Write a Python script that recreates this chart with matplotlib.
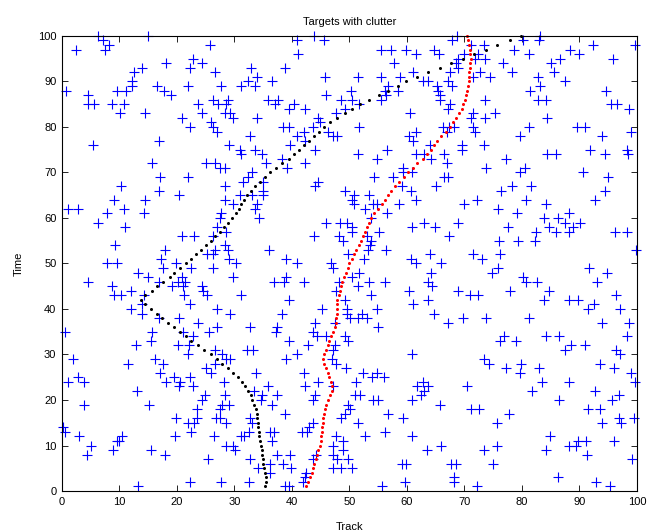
import numpy as np
import matplotlib
matplotlib.use("Agg")
import matplotlib.pyplot as plt

plt.rcParams['font.family'] = ['Liberation Sans', 'DejaVu Sans']

# time steps of the two targets
time_steps = np.arange(1, 101)

# target 1 (black) track position per time step
track_black = [35.3, 35.4, 35.4, 35.3, 35.2, 35.0, 34.9, 34.8, 34.7, 34.6,
               34.4, 34.3, 34.3, 34.1, 34.1, 34.0, 33.9, 33.7, 33.4, 33.1,
               32.8, 32.4, 31.9, 31.3, 30.6, 29.8, 28.9, 27.9, 26.9, 25.9,
               24.7, 23.6, 22.5, 21.5, 20.5, 19.5, 18.5, 17.4, 16.5, 15.5,
               14.5, 13.7, 14.5, 15.6, 16.6, 17.6, 18.7, 19.5, 20.5, 21.5,
               22.4, 23.3, 24.2, 25.0, 25.9, 26.6, 27.4, 28.2, 28.9, 29.6,
               30.2, 30.7, 31.1, 31.7, 32.2, 32.8, 33.6, 34.4, 35.3, 36.2,
               37.2, 38.3, 39.4, 40.4, 41.2, 42.1, 43.0, 43.8, 44.7, 45.6,
               46.6, 47.9, 49.3, 50.5, 51.8, 53.4, 55.1, 56.7, 58.4, 59.9,
               61.8, 63.7, 65.8, 67.7, 69.8, 71.7, 73.7, 75.7, 77.9, 79.9]

# target 2 (red) track position per time step
track_red = [42.4, 42.8, 43.1, 43.4, 43.7, 43.9, 44.2, 44.4, 44.6, 44.8,
             45.0, 45.1, 45.2, 45.3, 45.4, 45.4, 45.6, 45.7, 45.9, 46.2,
             46.6, 46.9, 46.9, 46.7, 46.5, 46.2, 45.9, 45.6, 45.4, 45.6,
             45.9, 46.2, 46.5, 46.8, 47.1, 47.4, 47.6, 47.7, 47.8, 47.8,
             47.8, 47.9, 48.1, 48.3, 48.5, 48.7, 49.0, 49.4, 49.8, 50.0,
             50.4, 50.8, 51.2, 51.6, 52.0, 52.4, 52.7, 53.0, 53.4, 53.7,
             54.2, 54.9, 55.6, 56.2, 56.7, 57.3, 58.0, 58.6, 59.5, 60.2,
             61.1, 61.8, 62.7, 63.4, 64.2, 64.7, 65.3, 66.0, 66.7, 67.5,
             68.0, 68.6, 69.0, 69.5, 69.8, 70.1, 70.3, 70.5, 70.6, 70.7,
             70.8, 70.8, 70.9, 71.0, 71.1, 71.0, 70.9, 70.8, 70.6, 70.4]

# clutter detections (track, time)
clutter = [
    (6.3, 100), (7.2, 99), (8.1, 98), (7.5, 97), (2.4, 97), (14.9, 100), (22.8, 95), (18.1, 94),
    (24.3, 94), (22.3, 93), (13.9, 93), (12.5, 92), (12.2, 90), (12.2, 89), (0.7, 88), (9.5, 88),
    (11.1, 88), (16.5, 89), (17.7, 88), (19.0, 87), (21.9, 89), (4.6, 87), (4.6, 85), (5.6, 85),
    (8.7, 85), (10.7, 85), (23.7, 85), (10.1, 83), (14.4, 83), (24.3, 83), (20.8, 82), (22.3, 80),
    (16.9, 77), (5.4, 76), (15.6, 72), (17.0, 69), (21.9, 69),
    (43.8, 100), (40.9, 99), (45.6, 99), (25.7, 98), (41.1, 96), (26.6, 92), (32.9, 93), (38.8, 93),
    (45.7, 91), (33.9, 91), (32.4, 90), (36.5, 90), (27.6, 89), (31.1, 89), (33.6, 89), (46.0, 87),
    (26.3, 86), (28.9, 86), (35.9, 86), (37.5, 86), (48.5, 86), (27.2, 85), (28.5, 85), (37.0, 85),
    (40.3, 85), (39.4, 84), (42.3, 84), (49.3, 84), (28.3, 83), (29.2, 83), (29.8, 82), (33.9, 82),
    (47.7, 83), (44.6, 82), (44.9, 81), (26.0, 81), (26.3, 80), (26.9, 79), (38.5, 80), (39.4, 80),
    (43.7, 80), (42.1, 79), (46.3, 79), (47.2, 78), (47.8, 78), (40.8, 78), (32.7, 78), (42.3, 77),
    (29.1, 76), (39.7, 76), (33.6, 75), (31.0, 75), (31.1, 74), (44.0, 75), (34.7, 74), (38.2, 73),
    (25.0, 72), (26.6, 72), (27.5, 71), (28.3, 71), (35.5, 72), (39.1, 71), (42.3, 72), (33.0, 70),
    (32.4, 69), (31.5, 68), (34.9, 68), (44.6, 68),
    (68.7, 100), (67.9, 99), (71.2, 98), (73.4, 98), (55.5, 97), (57.3, 97), (59.9, 97), (64.7, 97),
    (61.5, 96), (65.5, 96), (72.4, 96), (70.0, 96), (71.8, 95), (73.5, 95), (68.9, 95), (57.8, 94),
    (68.6, 94), (68.9, 93), (72.7, 92), (61.1, 92), (67.5, 92), (51.4, 91), (55.5, 91), (58.8, 91),
    (71.5, 91), (74.5, 91), (62.8, 90), (63.7, 90), (67.1, 90), (50.2, 88), (56.7, 89), (56.2, 88),
    (58.5, 88), (65.3, 89), (67.8, 89), (65.4, 88), (56.4, 87), (65.7, 87), (50.5, 86), (55.5, 86),
    (65.7, 86), (73.5, 86), (51.6, 85), (67.5, 85), (67.1, 84), (60.5, 83), (71.5, 83), (71.2, 82),
    (73.5, 82), (51.6, 80), (66.3, 80), (67.3, 80), (68.2, 80), (71.5, 80), (66.9, 79), (71.8, 79),
    (61.5, 79), (60.3, 78), (61.1, 77), (64.0, 76), (69.6, 76), (73.4, 76), (56.6, 75), (69.6, 75),
    (51.5, 74), (61.5, 74), (62.9, 74), (66.5, 74), (54.8, 73), (64.2, 73), (67.0, 72), (59.3, 71),
    (73.8, 71), (60.8, 70), (59.3, 70), (54.2, 69), (57.6, 69), (66.5, 69), (67.1, 69),
    (83.1, 100), (80.1, 99), (83.0, 99), (92.3, 98), (99.6, 98), (78.6, 97), (88.4, 97), (81.2, 96),
    (89.9, 96), (86.6, 95), (95.9, 95), (76.7, 94), (85.0, 94), (78.2, 92), (85.5, 92), (82.7, 91),
    (87.4, 90), (83.1, 89), (81.4, 88), (94.6, 88), (82.7, 86), (84.1, 86), (95.4, 85), (96.5, 85),
    (98.6, 84), (75.3, 83), (84.4, 82), (81.2, 80), (89.6, 80), (90.9, 80), (99.0, 79), (79.6, 78),
    (94.0, 78), (91.8, 75), (98.2, 75), (84.4, 74), (85.9, 74), (94.4, 74), (98.5, 74), (77.3, 73),
    (80.5, 71), (79.7, 70), (90.6, 70), (95.0, 69),
    (10.2, 67), (16.8, 66), (20.3, 65), (1.0, 62), (2.7, 62), (9.1, 64), (14.5, 64), (7.8, 61),
    (10.7, 62), (14.3, 61), (6.2, 59), (11.0, 58), (20.8, 56), (23.0, 56), (9.2, 54), (17.9, 53),
    (17.2, 51), (7.8, 50), (9.5, 50), (19.9, 50), (17.6, 49), (22.4, 49), (13.3, 48), (14.9, 47),
    (4.6, 46), (16.9, 46), (20.8, 47), (21.4, 46), (20.1, 46), (19.2, 45), (21.1, 45), (8.7, 45),
    (24.3, 45), (9.1, 43), (10.2, 43), (12.0, 44), (14.3, 43), (24.6, 44), (21.2, 43), (14.0, 41),
    (22.3, 41), (12.0, 40), (14.0, 39), (16.8, 38), (20.3, 38), (23.6, 37), (0.6, 35), (15.7, 35),
    (21.1, 35), (22.8, 34),
    (28.3, 67), (44.0, 67), (34.9, 66), (34.9, 65), (49.2, 66), (31.0, 65), (33.0, 65), (28.3, 64),
    (29.8, 63), (33.9, 63), (33.6, 62), (27.6, 61), (27.4, 60), (34.3, 60), (46.0, 59), (48.3, 59),
    (49.5, 59), (27.0, 58), (28.5, 57), (43.8, 56), (48.2, 56), (48.9, 55), (26.3, 56), (28.3, 54),
    (26.6, 53), (28.9, 53), (25.2, 52), (26.3, 52), (36.0, 53), (49.8, 52), (29.1, 51), (39.0, 51),
    (30.2, 50), (40.9, 50), (46.7, 50), (47.1, 49), (26.2, 49), (29.7, 47), (38.9, 47), (36.9, 46),
    (38.6, 46), (42.1, 46), (48.2, 46), (47.7, 44), (25.3, 43), (31.1, 43), (49.2, 42), (39.5, 42),
    (49.5, 40), (27.0, 40), (45.3, 40), (38.2, 39), (29.2, 39), (49.5, 39), (44.0, 37), (47.5, 37),
    (27.0, 36), (32.7, 36), (37.4, 36), (25.6, 35), (37.2, 35), (43.6, 35), (49.2, 34), (45.9, 34),
    (44.3, 34),
    (59.1, 67), (65.1, 67), (60.7, 66), (50.8, 65), (53.4, 65), (61.5, 64), (72.1, 64), (50.4, 64),
    (50.8, 63), (54.1, 63), (54.7, 63), (58.6, 63), (69.9, 63), (52.7, 62), (56.6, 61), (53.8, 60),
    (63.0, 59), (68.8, 59), (50.4, 58), (60.9, 58), (64.9, 58), (50.5, 57), (55.2, 57), (67.3, 56),
    (53.0, 56), (53.7, 55), (53.5, 54), (53.3, 53), (56.4, 53), (64.0, 52), (71.5, 52), (52.6, 51),
    (60.7, 51), (61.5, 50), (66.0, 50), (73.0, 51), (74.7, 48), (51.6, 48), (64.2, 48), (50.4, 47),
    (53.4, 46), (56.2, 46), (63.7, 46), (64.4, 45), (51.5, 45), (60.4, 44), (68.8, 44), (53.7, 43),
    (70.9, 43), (72.4, 43), (63.6, 42), (61.0, 41), (54.8, 40), (52.2, 39), (64.7, 39), (50.1, 38),
    (51.5, 38), (53.0, 38), (69.8, 38), (73.8, 38), (67.1, 37), (55.0, 36),
    (78.2, 67), (81.6, 67), (76.4, 66), (94.4, 66), (80.7, 64), (92.7, 64), (84.1, 63), (75.8, 62),
    (79.2, 61), (88.2, 61), (83.8, 60), (86.3, 60), (87.4, 59), (90.1, 59), (77.6, 58), (84.7, 58),
    (88.9, 58), (82.5, 57), (86.0, 57), (88.2, 57), (96.1, 57), (98.3, 57), (76.0, 55), (79.3, 55),
    (82.2, 55), (76.1, 52), (99.9, 53), (75.8, 49), (91.7, 49), (94.7, 48), (80.2, 47), (80.7, 46),
    (82.6, 46), (93.1, 46), (78.0, 44), (84.7, 44), (96.4, 43), (83.8, 42), (88.1, 42), (89.8, 42),
    (92.5, 41), (91.4, 40), (97.1, 40), (81.2, 38), (94.0, 37), (98.6, 37), (76.8, 34), (84.1, 34),
    (86.5, 34), (98.2, 34),
    (15.4, 33), (12.8, 32), (20.1, 32), (22.1, 32), (2.0, 29), (16.2, 29), (22.0, 30), (11.5, 28),
    (17.6, 28), (17.0, 26), (2.7, 25), (1.0, 24), (3.9, 24), (19.4, 25), (18.1, 24), (20.5, 24),
    (22.3, 25), (22.7, 23), (20.3, 23), (13.0, 22), (3.9, 19), (15.1, 19), (24.3, 20), (23.4, 18),
    (0.1, 14), (0.6, 13), (19.8, 16), (22.0, 15), (23.0, 15), (23.4, 16), (22.5, 13), (2.9, 12),
    (19.6, 12), (9.5, 11), (10.0, 11), (10.4, 12), (5.0, 10), (4.3, 8), (8.9, 9), (15.5, 9),
    (18.0, 8), (13.2, 1), (22.3, 2),
    (39.5, 33), (42.8, 32), (32.1, 31), (33.2, 31), (26.6, 31), (27.8, 30), (28.6, 29), (29.2, 29),
    (40.9, 30), (39.0, 29), (47.1, 31), (47.5, 32), (46.9, 29), (26.6, 28), (25.0, 27), (26.0, 26),
    (42.1, 26), (47.7, 28), (49.4, 27), (33.7, 26), (28.1, 24), (44.6, 24), (35.9, 23), (42.3, 23),
    (47.2, 23), (24.9, 21), (28.3, 21), (33.4, 22), (34.7, 21), (37.4, 21), (44.0, 21), (43.7, 20),
    (27.8, 19), (29.1, 19), (34.6, 20), (36.5, 19), (49.8, 19), (27.5, 18), (38.8, 17), (49.2, 17),
    (26.8, 16), (27.5, 16), (32.7, 16), (48.6, 16), (28.6, 15), (33.0, 15), (43.7, 15), (43.0, 14),
    (42.6, 13), (32.6, 13), (36.2, 13), (36.9, 13), (41.7, 13), (26.4, 12), (31.2, 12), (31.7, 12),
    (47.7, 12), (36.6, 11), (48.9, 11), (28.6, 10), (29.8, 10), (47.2, 10), (30.1, 9), (48.8, 9),
    (37.4, 8), (39.7, 8), (44.2, 8), (47.2, 8), (25.4, 7), (32.7, 7), (38.5, 6), (43.7, 7),
    (47.8, 7), (34.1, 5), (36.2, 6), (39.8, 5), (47.1, 5), (48.6, 5), (42.4, 4), (36.2, 4),
    (27.6, 2), (32.6, 2), (42.3, 3), (42.0, 2), (38.8, 1), (39.4, 1),
    (49.7, 33), (60.8, 30), (73.4, 29), (74.2, 28), (52.4, 26), (54.7, 26), (54.0, 25), (56.0, 25),
    (51.2, 24), (62.7, 24), (61.8, 23), (63.7, 23), (63.0, 22), (62.4, 21), (70.4, 23), (50.9, 21),
    (51.8, 21), (54.1, 20), (54.9, 20), (60.8, 20), (65.7, 19), (50.1, 18), (56.7, 17), (71.1, 18),
    (72.5, 18), (51.5, 15), (59.3, 16), (56.2, 13), (52.7, 12), (60.8, 12), (66.0, 10), (63.4, 9),
    (73.4, 9), (49.7, 7), (50.5, 5), (59.1, 6), (59.9, 6), (67.6, 6), (68.6, 6), (68.2, 3),
    (68.2, 2), (59.6, 2), (55.6, 1), (72.1, 1),
    (76.1, 33), (79.0, 33), (88.6, 32), (87.4, 31), (90.9, 32), (96.3, 31), (97.0, 30), (77.2, 27),
    (79.9, 28), (79.7, 26), (83.0, 27), (93.5, 28), (96.0, 27), (99.0, 26), (83.4, 24), (88.2, 24),
    (99.6, 24), (81.8, 22), (92.7, 22), (96.9, 21), (86.5, 20), (95.6, 20), (77.8, 17), (91.5, 18),
    (93.5, 18), (75.6, 15), (94.0, 15), (96.9, 16), (97.3, 15), (99.4, 16), (84.8, 12), (89.8, 11),
    (91.2, 11), (88.2, 10), (89.4, 10), (75.6, 10), (84.1, 9), (96.0, 11), (91.3, 8), (75.0, 6),
    (99.2, 7), (86.3, 3), (92.8, 2), (95.3, 1),
]
clutter_track, clutter_time = np.array(clutter).T

fig = plt.figure(figsize=(6.49, 5.31), dpi=100)
ax = fig.add_axes([0.0955, 0.0753, 0.886, 0.857])

ax.plot(clutter_track, clutter_time, '+', color='b', ms=6.5, mew=0.8, clip_on=False)
ax.plot(track_black, time_steps, 'o', color='k', ms=2.2, mew=0, clip_on=False)
ax.plot(track_red, time_steps, 'o', color='r', ms=2.2, mew=0, clip_on=False)

ax.set_xlim(0, 100)
ax.set_ylim(0, 100)
ax.set_xticks(np.arange(0, 101, 10))
ax.set_yticks(np.arange(0, 101, 10))
ax.tick_params(direction='in', top=True, right=True, length=4, width=0.6,
               labelsize=8, pad=4)
for s in ax.spines.values():
    s.set_linewidth(0.8)

ax.set_title("Targets with clutter", fontsize=8, pad=8)
ax.set_xlabel("Track", fontsize=8, labelpad=11)
ax.set_ylabel("Time", fontsize=8, labelpad=10)

fig.savefig("out.png", dpi=100)
